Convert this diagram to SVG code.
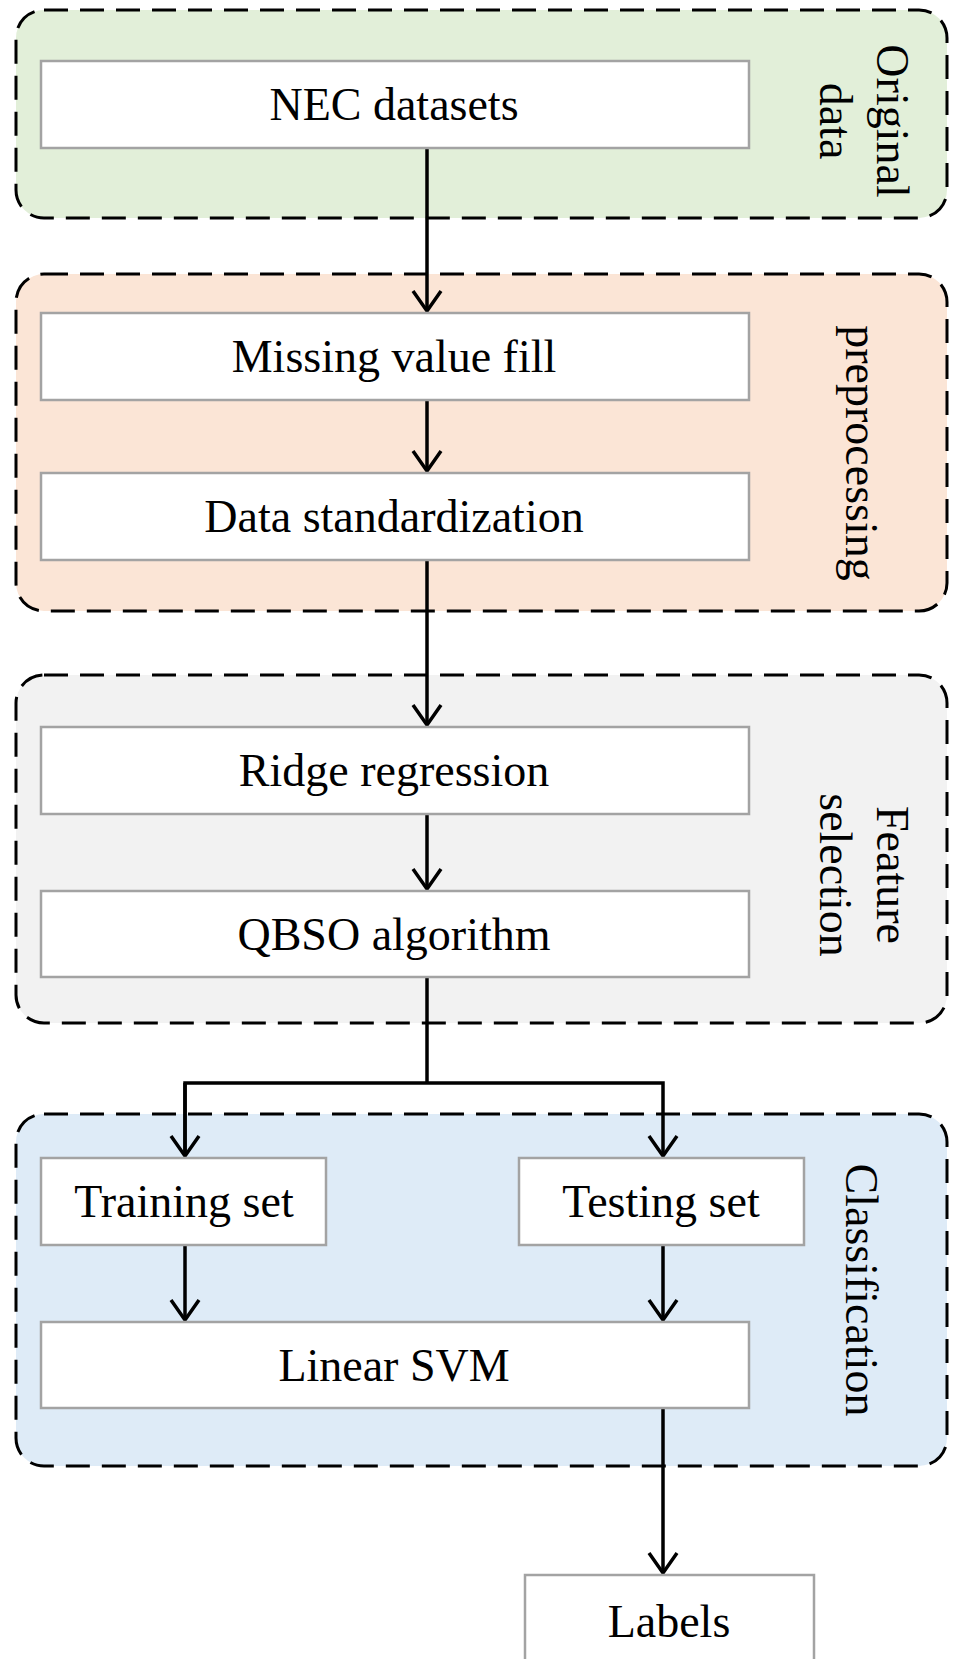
<svg xmlns="http://www.w3.org/2000/svg" width="953" height="1659" viewBox="0 0 953 1659">
<style>
.grp{stroke:#000;stroke-width:3;stroke-dasharray:24 12;}
.box{fill:#fff;stroke:#a3a3a3;stroke-width:2.5;}
.t{font-family:"Liberation Serif","Times New Roman",serif;font-size:46px;fill:#000;text-anchor:middle;}
.side{font-family:"Liberation Serif","Times New Roman",serif;font-size:46px;fill:#000;text-anchor:middle;}
.c{fill:none;stroke:#000;stroke-width:3.5;}
</style>
<defs>
<marker id="arr" markerUnits="userSpaceOnUse" viewBox="-26 -18 30 36" markerWidth="30" markerHeight="36" refX="0" refY="0" orient="auto" overflow="visible">
<path d="M-20,-14 L0,0 L-20,14" fill="none" stroke="#000" stroke-width="3.5" stroke-linejoin="miter"/>
</marker>
</defs>
<rect width="953" height="1659" fill="#fff"/>

<g id="group-original">
<rect class="grp" x="16" y="10" width="931" height="208" rx="28" fill="#e2efd9"/>
<text class="side" transform="translate(877,121) rotate(90)">Original</text>
<text class="side" transform="translate(820,121) rotate(90)">data</text>
</g>
<g id="group-preprocessing">
<rect class="grp" x="16" y="274" width="931" height="337" rx="28" fill="#fbe5d6"/>
<text class="side" transform="translate(846,453) rotate(90)">preprocessing</text>
</g>
<g id="group-feature">
<rect class="grp" x="16" y="675" width="931" height="348" rx="28" fill="#f2f2f2"/>
<text class="side" transform="translate(877,875) rotate(90)">Feature</text>
<text class="side" transform="translate(820,875) rotate(90)">selection</text>
</g>
<g id="group-classification">
<rect class="grp" x="16" y="1114" width="931" height="352" rx="28" fill="#deebf7"/>
<text class="side" transform="translate(846,1290) rotate(90)">Classification</text>
</g>

<g id="connectors">
<path class="c" d="M427,148 L427,311" marker-end="url(#arr)"/>
<path class="c" d="M427,400 L427,471" marker-end="url(#arr)"/>
<path class="c" d="M427,560 L427,725" marker-end="url(#arr)"/>
<path class="c" d="M427,814 L427,889" marker-end="url(#arr)"/>
<path class="c" d="M427,977 L427,1083"/>
<path class="c" d="M185,1156 L185,1083 L663,1083 L663,1156" marker-end="url(#arr)"/>
<path class="c" d="M185,1083 L185,1156" marker-end="url(#arr)"/>
<path class="c" d="M185,1245 L185,1320" marker-end="url(#arr)"/>
<path class="c" d="M663,1245 L663,1320" marker-end="url(#arr)"/>
<path class="c" d="M663,1408 L663,1573" marker-end="url(#arr)"/>
</g>

<g id="node-nec">
<rect class="box" x="41" y="61" width="708" height="87"/>
<text class="t" x="394" y="120">NEC datasets</text>
</g>
<g id="node-missing">
<rect class="box" x="41" y="313" width="708" height="87"/>
<text class="t" x="394" y="372">Missing value fill</text>
</g>
<g id="node-standard">
<rect class="box" x="41" y="473" width="708" height="87"/>
<text class="t" x="394" y="532">Data standardization</text>
</g>
<g id="node-ridge">
<rect class="box" x="41" y="727" width="708" height="87"/>
<text class="t" x="394" y="786">Ridge regression</text>
</g>
<g id="node-qbso">
<rect class="box" x="41" y="891" width="708" height="86"/>
<text class="t" x="394" y="950">QBSO algorithm</text>
</g>
<g id="node-training">
<rect class="box" x="41" y="1158" width="285" height="87"/>
<text class="t" x="184" y="1217">Training set</text>
</g>
<g id="node-testing">
<rect class="box" x="519" y="1158" width="285" height="87"/>
<text class="t" x="661" y="1217">Testing set</text>
</g>
<g id="node-svm">
<rect class="box" x="41" y="1322" width="708" height="86"/>
<text class="t" x="394" y="1381">Linear SVM</text>
</g>
<g id="node-labels">
<rect class="box" x="525" y="1575" width="289" height="110"/>
<text class="t" x="669" y="1637">Labels</text>
</g>
</svg>
